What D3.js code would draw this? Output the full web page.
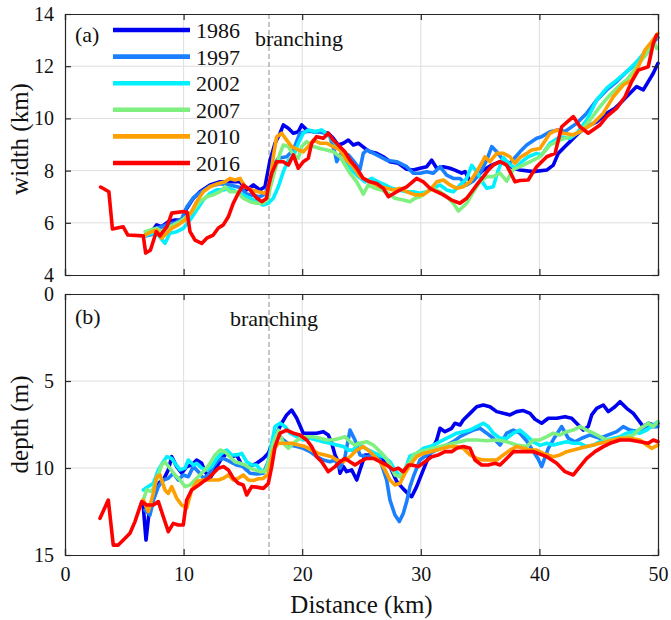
<!DOCTYPE html>
<html>
<head>
<meta charset="utf-8">
<script src="https://cdn.jsdelivr.net/npm/d3@7"></script>
<style>
  html, body { margin: 0; padding: 0; background: #fff; }
  svg { display: block; }
  text { font-family: "Liberation Serif", "Times New Roman", serif; fill: #111; }
</style>
</head>
<body>
<svg id="chart" width="671" height="620"></svg>
<script>
// ---- data: distance along channel (km) vs. width (km) and depth (m) ----
const years = ["1986", "1997", "2002", "2007", "2010", "2016"];
const colors = ["#0000f0", "#1a80ff", "#00f0ff", "#7ff07f", "#ffa000", "#ff0000"];
const branchingKm = 17.2;
const xTicks = [0, 10, 20, 30, 40, 50];
const widthTicks = [4, 6, 8, 10, 12, 14];
const depthTicks = [0, 5, 10, 15];

const width1986 = [[6.75,5.53],[7.31,5.66],[7.73,5.92],[8.15,5.85],[8.71,6.04],[9.27,6.11],[9.84,6.11],[10.26,6.55],[10.82,6.94],[11.38,7.19],[12.23,7.45],[13.07,7.57],[13.91,7.57],[14.76,7.57],[15.32,7.26],[15.88,7.45],[16.44,7.26],[16.86,7.38],[17.29,8.4],[17.71,9.05],[18.13,9.43],[18.41,9.75],[18.83,9.62],[19.25,9.43],[19.67,9.49],[19.96,9.75],[20.38,9.56],[20.94,9.49],[21.64,9.49],[22.2,9.43],[22.62,9.24],[23.04,8.98],[23.47,9.05],[23.89,9.17],[24.31,8.98],[24.73,9.05],[25.3,8.85],[25.72,8.72],[26.28,8.66],[26.84,8.53],[27.4,8.34],[28.1,8.28],[28.81,8.05],[29.37,8.02],[29.93,8.09],[30.5,8.15],[30.92,8.4],[31.34,8.09],[31.9,8.15],[32.46,8.09],[32.88,8.02],[33.45,7.9],[33.73,7.96],[34.15,7.6],[34.71,7.77],[35.27,8.02],[35.98,8.21],[36.68,8.34],[37.24,8.28],[37.8,8.09],[38.36,8.02],[39.49,7.96],[40.62,8.02],[41.17,8.21],[41.59,8.66],[42.16,8.92],[42.58,9.11],[43.28,9.43],[43.99,9.68],[44.83,9.87],[45.67,10.2],[46.37,10.39],[46.94,10.64],[47.64,10.96],[48.2,11.22],[48.76,11.09],[49.18,11.41],[49.6,11.73],[50.0,12.11]];
const width1997 = [[6.89,5.5],[7.31,5.55],[7.73,5.8],[8.15,5.85],[8.71,5.95],[9.27,6.0],[9.84,6.15],[10.26,6.6],[10.82,6.95],[11.38,7.15],[12.23,7.4],[13.07,7.5],[13.91,7.45],[14.76,7.35],[15.32,7.1],[15.88,7.05],[16.44,7.0],[16.86,7.1],[17.29,7.6],[17.71,8.3],[17.99,8.47],[18.69,8.53],[19.25,8.79],[19.81,9.43],[20.38,9.5],[21.08,9.5],[21.78,9.45],[22.34,9.3],[22.77,8.66],[22.91,8.34],[23.33,8.7],[23.89,8.6],[24.45,8.3],[24.87,8.05],[25.15,8.66],[25.44,8.79],[26.28,8.6],[27.12,8.4],[27.97,8.34],[28.81,8.15],[29.37,7.9],[29.93,7.9],[30.5,7.96],[31.05,7.9],[31.62,8.15],[32.18,7.83],[32.74,7.7],[33.31,7.7],[33.87,7.45],[34.43,7.6],[34.99,7.9],[35.56,8.4],[35.98,8.92],[36.4,8.72],[36.96,8.4],[37.52,8.28],[38.36,8.72],[38.93,8.98],[39.77,9.24],[40.19,9.3],[40.89,9.49],[41.59,9.56],[42.16,9.5],[43.14,9.81],[43.99,10.2],[44.83,10.7],[45.67,11.09],[46.52,11.41],[47.36,11.79],[48.2,12.11],[49.05,12.49],[49.75,12.98],[50.0,13.1]];
const width2002 = [[6.6,5.47],[7.31,5.6],[7.87,5.53],[8.43,5.21],[8.84,5.6],[9.42,5.66],[9.97,5.79],[10.54,6.11],[11.1,6.49],[11.66,6.87],[12.23,7.13],[12.79,7.26],[13.35,7.26],[13.91,7.32],[14.48,7.19],[15.03,7.07],[15.6,6.94],[16.16,6.81],[16.72,6.68],[17.14,6.75],[17.56,6.94],[17.99,7.38],[18.41,7.96],[18.83,8.4],[19.25,8.53],[19.67,9.05],[20.09,9.43],[20.51,9.56],[21.08,9.49],[21.64,9.56],[22.2,9.37],[22.77,9.05],[23.33,8.79],[23.75,8.34],[24.17,8.02],[24.73,7.77],[25.3,7.57],[25.86,7.7],[26.42,7.57],[26.98,7.45],[27.55,7.32],[28.1,7.26],[28.81,7.19],[29.37,7.19],[29.93,7.13],[30.5,7.19],[31.05,7.32],[31.62,7.45],[32.18,7.26],[32.74,7.19],[33.31,7.45],[33.87,7.7],[34.29,8.2],[34.71,7.96],[35.27,7.51],[35.56,7.32],[36.11,7.38],[36.53,8.02],[36.96,8.5],[37.38,8.28],[37.94,8.09],[38.51,8.34],[39.06,8.53],[39.77,8.66],[40.19,8.6],[40.89,9.05],[41.74,9.3],[42.58,9.24],[43.14,9.43],[43.99,9.94],[44.83,10.7],[45.67,11.16],[46.52,11.47],[47.36,11.79],[48.2,12.17],[49.05,12.62],[49.89,13.13]];
const width2007 = [[6.75,5.66],[7.17,5.72],[7.73,5.79],[8.15,5.66],[8.58,5.79],[9.13,5.92],[9.7,6.04],[10.26,6.23],[10.82,6.49],[11.38,6.81],[11.95,7.0],[12.5,7.07],[13.07,7.19],[13.49,7.38],[13.91,7.19],[14.48,7.19],[15.03,6.94],[15.6,6.81],[16.16,6.75],[16.72,6.75],[17.14,6.94],[17.29,7.32],[17.71,8.02],[18.13,8.66],[18.41,8.98],[18.83,8.92],[19.25,8.6],[19.67,8.47],[19.96,8.92],[20.38,9.11],[20.94,8.92],[21.5,8.85],[22.07,8.79],[22.62,8.72],[23.19,8.53],[23.61,8.21],[24.03,7.9],[24.6,7.57],[25.15,7.1],[25.57,7.45],[26.14,7.32],[26.7,7.26],[27.26,7.13],[27.82,6.94],[28.52,6.87],[29.09,6.81],[29.51,6.94],[29.93,7.0],[30.5,7.19],[31.05,7.32],[31.62,7.19],[32.18,7.0],[32.74,6.75],[33.17,6.45],[33.87,6.75],[34.43,7.19],[34.99,7.57],[35.56,7.77],[36.11,7.77],[36.68,7.9],[37.24,7.6],[37.8,8.05],[38.36,8.15],[38.93,8.28],[39.49,8.4],[40.05,8.53],[40.89,8.98],[41.74,9.17],[42.58,9.3],[43.42,9.49],[44.27,9.94],[45.11,10.45],[45.95,10.9],[46.8,11.28],[47.36,11.47],[48.2,11.98],[49.05,12.49],[49.6,13.0],[49.89,12.68]];
const width2010 = [[6.75,5.53],[7.31,5.66],[7.73,5.72],[8.15,5.41],[8.58,5.6],[9.0,5.79],[9.55,5.92],[10.12,6.11],[10.68,6.43],[11.1,6.81],[11.66,7.19],[12.23,7.38],[12.93,7.51],[13.49,7.57],[13.91,7.7],[14.33,7.64],[14.76,7.7],[15.18,7.38],[15.74,7.26],[16.3,7.19],[16.86,7.13],[17.14,7.26],[17.29,7.64],[17.56,8.53],[17.85,9.3],[18.27,9.43],[18.69,9.17],[19.11,8.92],[19.67,8.79],[20.09,8.72],[20.51,8.92],[20.94,9.17],[21.5,9.05],[22.07,9.05],[22.62,8.92],[23.19,8.79],[23.75,8.4],[24.31,8.15],[24.87,7.77],[25.44,7.64],[26.0,7.51],[26.56,7.38],[27.12,7.32],[27.68,7.26],[28.25,7.32],[28.81,7.19],[29.51,7.07],[30.21,7.07],[30.78,7.26],[31.34,7.57],[31.9,7.64],[32.46,7.45],[33.03,7.32],[33.58,7.38],[34.15,7.57],[34.71,7.96],[35.13,8.28],[35.41,8.53],[35.83,8.34],[36.4,8.66],[36.96,8.66],[37.52,8.53],[37.94,8.28],[38.36,8.5],[38.93,8.66],[39.35,8.79],[40.05,8.85],[40.89,9.43],[41.46,9.56],[42.02,9.43],[42.86,9.37],[43.7,9.56],[44.55,9.81],[45.39,10.2],[46.23,10.83],[47.07,11.28],[47.78,11.47],[48.34,11.98],[48.9,12.62],[49.47,12.94],[50.0,13.26]];
const width2016 = [[3.0,7.37],[3.7,7.19],[4.0,5.76],[4.9,5.85],[5.3,5.53],[6.6,5.5],[6.8,4.84],[7.2,4.95],[7.7,5.66],[8.0,5.5],[8.6,5.85],[9.0,6.37],[10.0,6.43],[10.3,6.4],[10.54,5.66],[10.96,5.34],[11.53,5.21],[11.95,5.41],[12.5,5.53],[12.93,5.8],[13.35,5.92],[13.77,6.23],[14.19,6.75],[14.61,7.13],[15.03,7.45],[15.6,7.26],[16.16,6.95],[16.59,6.81],[17.0,6.94],[17.14,7.38],[17.43,7.9],[17.85,8.34],[18.4,8.34],[18.83,8.21],[19.25,8.6],[19.67,8.09],[20.09,8.34],[20.51,8.47],[20.8,9.05],[21.22,9.3],[21.78,9.24],[22.2,9.43],[22.62,9.17],[23.04,8.98],[23.6,8.72],[24.03,8.4],[24.6,8.09],[25.15,7.7],[25.7,7.57],[26.28,7.51],[26.84,7.32],[27.26,7.0],[27.97,7.19],[28.52,7.32],[28.81,7.38],[29.65,7.7],[30.21,7.57],[30.78,7.32],[31.34,7.19],[31.9,7.07],[32.6,6.87],[33.3,6.75],[33.87,6.94],[34.29,7.19],[34.71,7.45],[35.27,7.77],[35.69,8.02],[36.11,8.21],[36.68,8.34],[37.24,8.21],[37.66,7.83],[37.94,7.57],[38.36,7.62],[39.06,7.64],[39.49,7.96],[39.77,8.15],[40.62,8.53],[41.32,8.66],[41.88,9.68],[42.86,10.07],[43.42,9.68],[44.12,9.43],[45.11,9.75],[45.67,10.07],[46.52,10.39],[47.22,10.83],[47.78,11.41],[48.34,11.85],[49.18,11.98],[49.6,12.87],[49.89,13.2]];

const depth1986 = [[6.6,12.22],[6.83,14.14],[7.11,12.41],[7.45,11.65],[7.87,10.88],[8.29,10.69],[8.71,10.11],[9.0,9.35],[9.42,9.92],[9.84,10.3],[10.26,9.92],[10.68,9.83],[11.1,9.54],[11.53,9.73],[11.8,10.21],[12.23,10.59],[12.79,9.92],[13.21,9.45],[13.63,9.16],[14.06,9.35],[14.48,9.25],[14.9,9.83],[15.32,10.11],[15.6,9.9],[16.16,9.73],[16.72,9.45],[17.14,9.16],[17.43,8.68],[17.85,8.0],[18.27,7.43],[18.69,6.95],[19.11,6.67],[19.54,7.14],[20.09,8.0],[20.66,8.0],[21.22,8.0],[21.78,7.91],[22.2,8.1],[22.49,8.58],[22.77,9.25],[23.04,9.64],[23.19,10.3],[23.47,9.92],[23.75,10.21],[24.17,10.11],[24.6,10.69],[24.87,10.11],[25.3,9.25],[25.72,9.25],[26.28,9.25],[26.84,9.54],[27.4,9.92],[27.97,10.78],[28.52,11.2],[28.95,11.5],[29.23,11.65],[29.65,11.07],[30.21,10.11],[30.78,9.16],[31.34,8.39],[31.62,7.72],[32.04,7.91],[32.6,7.72],[32.88,7.43],[33.31,7.53],[33.58,7.24],[34.15,6.86],[34.71,6.48],[35.27,6.38],[35.83,6.48],[36.4,6.76],[36.96,6.86],[37.52,6.95],[38.08,6.76],[38.64,6.7],[39.21,6.86],[39.63,7.2],[40.19,7.43],[40.75,7.14],[41.46,7.14],[42.16,7.05],[42.72,7.14],[43.28,7.53],[43.7,7.82],[44.12,7.62],[44.41,6.95],[44.83,6.57],[45.39,6.38],[45.81,6.76],[46.37,6.48],[46.8,6.19],[47.36,6.57],[47.92,6.86],[48.34,7.24],[48.76,7.62],[49.18,7.43],[49.6,7.53],[50.0,7.43]];
const depth1997 = [[6.75,12.41],[7.17,12.7],[7.45,11.84],[7.87,11.07],[8.29,10.69],[8.71,10.59],[9.13,10.3],[9.55,10.69],[9.97,10.4],[10.4,10.5],[10.82,9.92],[11.24,10.21],[11.66,10.59],[12.08,10.4],[12.5,9.92],[12.93,9.54],[13.35,9.45],[13.91,9.64],[14.48,9.83],[15.03,9.92],[15.6,10.3],[16.16,10.35],[16.72,10.3],[17.14,9.64],[17.56,8.58],[17.99,8.1],[18.41,8.39],[18.97,8.68],[19.54,8.77],[20.09,8.87],[20.66,9.06],[21.22,9.35],[21.78,9.54],[22.34,9.64],[22.77,9.54],[23.19,10.01],[23.61,9.35],[24.03,7.82],[24.45,8.39],[24.87,9.25],[25.44,9.35],[26.0,9.25],[26.56,9.54],[26.84,10.11],[27.12,10.69],[27.4,11.84],[27.82,12.7],[28.19,13.08],[28.52,12.61],[28.81,11.93],[29.09,11.07],[29.37,10.5],[29.93,9.54],[30.5,9.25],[31.05,9.06],[31.62,8.87],[32.18,8.68],[32.74,8.49],[33.31,8.2],[33.87,8.0],[34.43,7.82],[34.99,7.72],[35.56,8.0],[36.11,8.29],[36.68,8.68],[37.24,8.0],[37.8,7.82],[38.36,8.0],[38.93,8.45],[39.49,9.05],[39.91,9.5],[40.19,9.92],[40.75,8.87],[41.32,8.2],[41.88,7.62],[42.44,8.29],[43.0,8.49],[43.57,8.29],[44.27,8.1],[45.11,8.29],[45.81,8.1],[46.52,7.91],[47.07,7.62],[47.64,7.82],[48.34,7.91],[48.9,7.62],[49.47,7.62],[50.0,7.62]];
const depth2002 = [[6.6,11.26],[7.02,11.07],[7.45,10.88],[7.87,10.11],[8.29,9.64],[8.58,9.35],[9.0,9.45],[9.27,9.73],[9.7,10.11],[10.12,10.01],[10.4,9.54],[10.82,9.83],[11.1,9.73],[11.53,10.01],[11.95,10.11],[12.37,9.92],[12.79,9.45],[13.21,9.16],[13.63,8.97],[14.06,9.25],[14.48,9.25],[14.9,9.16],[15.32,9.64],[15.74,9.83],[16.16,9.83],[16.59,10.21],[17.0,10.11],[17.29,9.06],[17.71,7.62],[18.13,7.43],[18.55,7.62],[18.97,8.0],[19.54,8.2],[20.09,8.39],[20.66,8.29],[21.22,8.39],[21.78,8.49],[22.34,8.58],[22.91,8.68],[23.47,8.77],[23.89,8.97],[24.31,8.97],[24.73,8.58],[25.3,8.87],[25.86,9.06],[26.42,9.25],[26.84,9.35],[27.4,9.64],[27.82,10.11],[28.25,10.5],[28.67,10.1],[29.09,9.3],[29.65,9.16],[30.21,8.87],[30.78,8.77],[31.34,8.58],[31.9,8.39],[32.46,8.2],[33.03,8.0],[33.58,7.91],[34.15,7.82],[34.71,7.62],[35.27,7.43],[35.69,7.62],[36.11,8.0],[36.68,8.29],[37.24,8.29],[37.8,8.0],[38.36,7.82],[38.93,8.15],[39.49,8.5],[40.05,8.7],[40.62,8.58],[41.17,8.68],[41.74,8.58],[42.3,8.49],[42.86,8.58],[43.42,8.58],[43.99,8.77],[44.55,8.68],[45.11,8.49],[45.67,8.39],[46.23,8.29],[46.8,8.2],[47.36,8.0],[47.92,7.91],[48.48,8.0],[49.05,7.82],[49.6,7.53],[50.0,7.34]];
const depth2007 = [[6.6,11.84],[6.89,11.26],[7.31,11.36],[7.73,10.69],[8.15,9.83],[8.43,9.64],[8.84,10.01],[9.27,10.4],[9.7,10.69],[10.12,11.07],[10.54,10.98],[10.96,10.69],[11.38,10.4],[11.8,10.11],[12.23,9.73],[12.65,9.25],[13.07,8.97],[13.49,9.06],[13.91,9.35],[14.33,9.64],[14.76,9.73],[15.18,9.83],[15.6,10.01],[16.02,10.11],[16.44,10.21],[16.86,10.21],[17.14,9.73],[17.56,8.58],[17.99,7.82],[18.41,8.58],[18.83,8.87],[19.25,8.58],[19.81,8.29],[20.38,8.2],[20.94,8.2],[21.5,8.29],[22.07,8.39],[22.62,8.39],[23.19,8.29],[23.61,8.2],[24.03,8.49],[24.45,8.68],[24.87,8.58],[25.44,8.49],[26.0,8.68],[26.56,9.06],[26.98,9.35],[27.4,9.83],[27.82,10.4],[28.25,10.5],[28.67,10.01],[29.09,9.64],[29.37,9.25],[29.93,9.06],[30.5,8.97],[31.05,8.87],[31.62,8.77],[32.18,8.68],[32.74,8.58],[33.31,8.49],[33.87,8.39],[34.71,8.39],[35.56,8.43],[36.4,8.39],[37.24,8.49],[38.08,8.68],[38.93,8.77],[39.49,8.39],[40.05,8.39],[40.62,8.2],[41.17,8.0],[41.74,8.1],[42.3,7.91],[42.86,7.82],[43.42,7.62],[43.99,7.82],[44.55,8.0],[45.11,8.2],[45.67,8.39],[46.23,8.39],[46.8,8.29],[47.36,8.2],[47.92,8.1],[48.34,7.82],[48.76,7.62],[49.18,7.43],[49.6,7.62],[50.0,7.34]];
const depth2010 = [[6.6,11.84],[7.02,12.5],[7.45,11.46],[7.73,10.5],[8.01,10.4],[8.43,11.26],[8.71,11.46],[9.0,11.07],[9.42,11.74],[9.84,12.13],[10.26,12.3],[10.68,11.26],[11.1,10.78],[11.66,10.69],[12.08,10.69],[12.5,10.69],[12.93,10.69],[13.35,10.59],[13.77,10.4],[14.19,10.69],[14.61,10.59],[15.03,10.4],[15.46,10.69],[15.88,10.72],[16.3,10.62],[16.72,10.6],[17.14,10.35],[17.56,8.97],[17.99,8.58],[18.55,8.58],[19.11,8.58],[19.67,8.68],[20.24,8.77],[20.8,8.97],[21.36,9.16],[21.92,9.25],[22.49,9.35],[22.91,9.54],[23.47,9.64],[24.03,9.35],[24.6,8.97],[25.15,8.77],[25.72,9.06],[26.14,9.35],[26.56,9.64],[26.98,10.11],[27.4,10.69],[27.82,10.98],[28.25,10.88],[28.67,10.3],[29.09,9.83],[29.65,9.35],[30.21,9.16],[30.78,9.06],[31.34,8.97],[31.9,8.87],[32.46,8.77],[33.03,8.77],[33.58,8.87],[34.15,9.25],[34.71,9.45],[35.27,9.54],[35.83,9.54],[36.4,9.54],[36.96,9.25],[37.52,8.97],[38.08,8.77],[38.64,8.87],[39.21,8.97],[39.77,8.97],[40.33,9.16],[41.17,9.35],[41.74,9.25],[42.3,9.06],[42.86,8.97],[43.42,8.87],[43.99,8.77],[44.55,8.68],[45.11,8.58],[45.67,8.49],[46.23,8.39],[46.8,8.29],[47.64,8.29],[48.48,8.39],[49.05,8.68],[49.47,8.87],[50.0,8.68]];
const depth2016 = [[2.95,12.89],[3.65,11.84],[4.07,14.43],[4.49,14.43],[4.92,14.14],[5.48,13.75],[5.9,13.08],[6.47,11.93],[6.89,12.13],[7.45,12.13],[7.87,11.93],[8.29,12.8],[8.71,13.66],[9.13,13.18],[9.55,13.28],[9.97,13.28],[10.26,11.84],[10.68,11.26],[11.1,11.07],[11.66,10.78],[12.08,10.59],[12.5,10.3],[12.93,10.01],[13.35,9.92],[13.77,10.11],[14.19,10.59],[14.61,10.88],[15.03,10.98],[15.32,11.55],[15.74,11.07],[16.16,11.1],[16.72,11.17],[17.14,10.9],[17.43,9.92],[17.71,8.77],[18.13,8.0],[18.69,7.82],[19.25,8.0],[19.81,8.1],[20.38,8.39],[20.8,8.77],[21.22,9.35],[21.64,9.64],[22.2,10.21],[22.77,9.92],[23.19,9.64],[23.61,9.45],[24.03,9.64],[24.45,9.83],[24.87,9.64],[25.44,9.45],[26.0,9.45],[26.56,9.64],[27.12,9.83],[27.68,10.11],[28.1,10.01],[28.52,10.21],[28.95,9.83],[29.23,9.83],[29.8,9.92],[30.35,9.64],[30.92,9.35],[31.48,9.25],[32.04,9.06],[32.6,9.06],[33.03,8.87],[33.58,8.77],[34.15,8.87],[34.57,9.54],[35.13,9.83],[35.69,9.83],[36.26,9.73],[36.68,9.83],[37.24,9.45],[37.8,9.06],[38.64,9.06],[39.49,9.06],[40.62,9.35],[41.46,9.73],[42.16,10.21],[42.86,10.4],[43.42,9.92],[43.99,9.45],[44.69,9.06],[45.39,8.77],[45.95,8.58],[46.8,8.39],[47.64,8.39],[48.48,8.49],[49.18,8.58],[49.6,8.39],[50.0,8.49]];

const widthSeries = [width1986, width1997, width2002, width2007, width2010, width2016];
const depthSeries = [depth1986, depth1997, depth2002, depth2007, depth2010, depth2016];

// ---- layout ----
const svg = d3.select("#chart");
const left = 65, right = 658;
const panelA = { top: 14, bottom: 275 };
const panelB = { top: 294, bottom: 555 };
const axisColor = "#262626";
const gridColor = "#dedede";
const tickFont = 20;
const labelFont = 25;

const x = d3.scaleLinear().domain([0, 50]).range([left, right]);
const yWidth = d3.scaleLinear().domain([4, 14]).range([panelA.bottom, panelA.top]);
const yDepth = d3.scaleLinear().domain([0, 15]).range([panelB.top, panelB.bottom]);

function drawPanel(p, y, yTickVals, series, showXLabels) {
  const g = svg.append("g");
  // grid
  g.append("g").selectAll("line").data(xTicks.slice(1, -1)).join("line")
    .attr("x1", d => x(d)).attr("x2", d => x(d))
    .attr("y1", p.top).attr("y2", p.bottom)
    .attr("stroke", gridColor).attr("stroke-width", 1);
  g.append("g").selectAll("line").data(yTickVals.slice(1, -1)).join("line")
    .attr("x1", left).attr("x2", right)
    .attr("y1", d => y(d)).attr("y2", d => y(d))
    .attr("stroke", gridColor).attr("stroke-width", 1);

  // branching marker
  g.append("line")
    .attr("x1", x(branchingKm)).attr("x2", x(branchingKm))
    .attr("y1", p.top).attr("y2", p.bottom)
    .attr("stroke", "#8c8c8c").attr("stroke-width", 1)
    .attr("stroke-dasharray", "5,3");

  // data lines
  const line = d3.line().x(d => x(d[0])).y(d => y(d[1]));
  g.append("g").selectAll("path").data(series).join("path")
    .attr("d", line)
    .attr("fill", "none")
    .attr("stroke", (d, i) => colors[i])
    .attr("stroke-width", 3.6)
    .attr("stroke-linejoin", "round")
    .attr("stroke-linecap", "round");

  // axes with inward ticks on all four sides
  const tk = 6;
  const axL = d3.axisLeft(y).tickValues(yTickVals).tickSize(-tk).tickPadding(11);
  const axR = d3.axisRight(y).tickValues(yTickVals).tickSize(-tk).tickFormat("");
  const axB = d3.axisBottom(x).tickValues(xTicks).tickSize(-tk).tickPadding(12);
  const axT = d3.axisTop(x).tickValues(xTicks).tickSize(-tk).tickFormat("");
  if (!showXLabels) axB.tickFormat("");

  const styleAxis = sel => {
    sel.selectAll("path").attr("stroke", axisColor).attr("stroke-width", 1.2);
    sel.selectAll("line").attr("stroke", axisColor).attr("stroke-width", 1.2);
    sel.selectAll("text").attr("font-size", tickFont)
      .attr("font-family", '"Liberation Serif", serif').attr("fill", "#111");
  };
  g.append("g").attr("transform", `translate(${left},0)`).call(axL).call(styleAxis);
  g.append("g").attr("transform", `translate(${right},0)`).call(axR).call(styleAxis);
  g.append("g").attr("transform", `translate(0,${p.bottom})`).call(axB).call(styleAxis);
  g.append("g").attr("transform", `translate(0,${p.top})`).call(axT).call(styleAxis);
  return g;
}

drawPanel(panelA, yWidth, widthTicks, widthSeries, false);
drawPanel(panelB, yDepth, depthTicks, depthSeries, true);

// legend (panel a)
const legend = svg.append("g");
years.forEach((yr, i) => {
  const cy = 30 + i * 26.6;
  legend.append("line")
    .attr("x1", 113).attr("x2", 190).attr("y1", cy).attr("y2", cy)
    .attr("stroke", colors[i]).attr("stroke-width", 4.6);
  legend.append("text")
    .attr("x", 196).attr("y", cy + 8)
    .attr("font-size", 22).text(yr);
});

// annotations
svg.append("text").attr("x", 75).attr("y", 42).attr("font-size", 22).text("(a)");
svg.append("text").attr("x", 75).attr("y", 324).attr("font-size", 22).text("(b)");
svg.append("text").attr("x", 255).attr("y", 46).attr("font-size", 22).text("branching");
svg.append("text").attr("x", 230).attr("y", 326).attr("font-size", 22).text("branching");

// axis labels
svg.append("text")
  .attr("transform", "translate(28,139) rotate(-90)")
  .attr("text-anchor", "middle").attr("font-size", labelFont).text("width (km)");
svg.append("text")
  .attr("transform", `translate(28,${(panelB.top + panelB.bottom) / 2}) rotate(-90)`)
  .attr("text-anchor", "middle").attr("font-size", labelFont).text("depth (m)");
svg.append("text")
  .attr("x", (left + right) / 2).attr("y", 613)
  .attr("text-anchor", "middle").attr("font-size", labelFont).text("Distance (km)");
</script>
</body>
</html>
